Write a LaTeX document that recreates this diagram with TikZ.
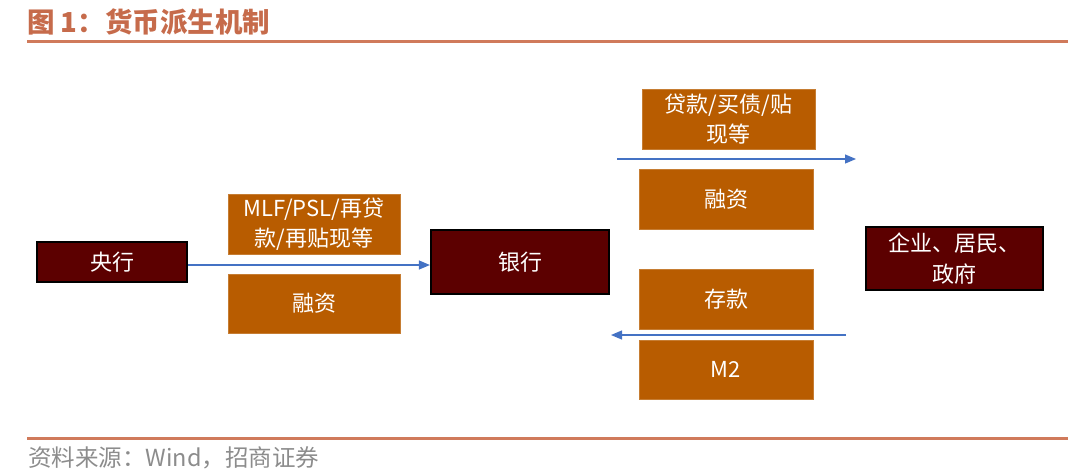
\documentclass[tikz,border=0pt]{standalone}
\usepackage{fontspec}
\setmainfont{Noto Sans CJK SC}
\newfontfamily\cjk{Noto Sans CJK SC}
\usetikzlibrary{arrows.meta}
\definecolor{darkred}{HTML}{5C0000}
\definecolor{ochre}{HTML}{B85C00}
\definecolor{titlec}{HTML}{C66B4B}
\definecolor{rulec}{HTML}{D07A5B}
\definecolor{srcc}{HTML}{8C8C8C}
\definecolor{arrowc}{HTML}{4472C4}
\tikzset{
  keybox/.style={draw=black, line width=2.2pt, fill=darkred, text=white, font=\cjk\fontsize{22}{31}\selectfont, inner sep=0pt, align=center},
  flowbox/.style={draw=ochre!80!white, line width=0.6pt, fill=ochre, text=white, font=\cjk\fontsize{22}{30}\selectfont, inner sep=0pt, align=center, minimum width=173pt, minimum height=60pt},
  flow/.style={draw=arrowc, line width=1.2pt, -{Triangle[length=11pt,width=9pt]}},
  rulel/.style={draw=rulec, line width=3pt}
}
\begin{document}
\begin{tikzpicture}[x=1pt,y=-1pt]
\useasboundingbox (0,0) rectangle (1080,475);
% title
\node[anchor=west, text=titlec, font=\cjk\bfseries\fontsize{27.5}{30}\selectfont, inner sep=0pt] (title) at (27,22) {图 1：货币派生机制};
\draw[rulel] (27,41.5) -- (1068,41.5);
\draw[rulel] (27,438.5) -- (1068,438.5);
\node[anchor=west, text=srcc, font=\cjk\fontsize{23.5}{25}\selectfont, inner sep=0pt] (src) at (28,458) {资料来源：Wind，招商证券};
% key boxes
\node[keybox, minimum width=150pt, minimum height=40pt] (cb) at (112,262) {央行};
\node[keybox, minimum width=178pt, minimum height=64pt] (bank) at (520,262) {银行};
\node[keybox, minimum width=177pt, minimum height=63pt] (ent) at (954.5,258.5) {企业、居民、\\政府};
% flow boxes
\node[flowbox, minimum width=172pt] (mlf) at (314,224) {MLF/PSL/再贷\\款/再贴现等};
\node[flowbox, minimum width=172pt, minimum height=59pt] (rzl) at (314,303.5) {融资};
\node[flowbox] (loan) at (728.5,119) {贷款/买债/贴\\现等};
\node[flowbox, minimum width=174pt] (rzr) at (726,199) {融资};
\node[flowbox, minimum width=174pt] (dep) at (726,299) {存款};
\node[flowbox, minimum width=174pt, minimum height=59pt] (m2) at (726,369.5) {M2};
% arrows
\coordinate (a1s) at (617,159);
\coordinate (a1e) at (856,159);
\coordinate (a2s) at (846,335);
\coordinate (a2e) at (611,335);
\draw[flow] (cb.east |- 0,265) -- (bank.west |- 0,265);
\draw[flow] (a1s) -- (a1e);
\draw[flow] (a2s) -- (a2e);
\end{tikzpicture}
\end{document}
